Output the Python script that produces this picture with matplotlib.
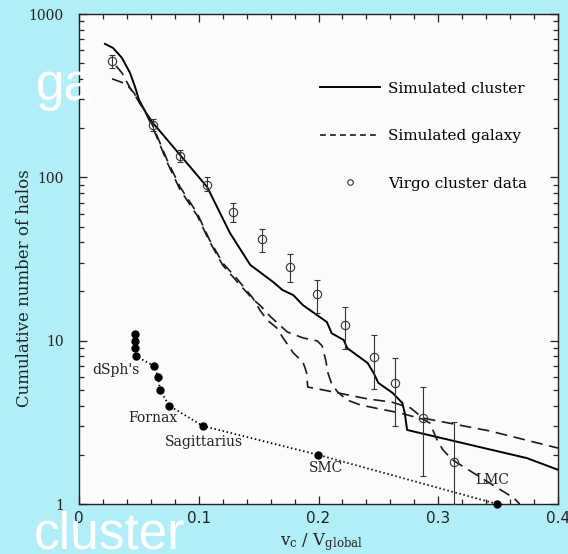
import matplotlib
matplotlib.use("Agg")
import matplotlib.pyplot as plt
from matplotlib.lines import Line2D
from matplotlib.ticker import FixedLocator, MultipleLocator, LogLocator, NullFormatter, FixedFormatter

plt.rcParams['font.family'] = ['DejaVu Serif']
plt.rcParams['mathtext.fontset'] = 'dejavuserif'

# ---- Simulated cluster (solid line) ----
cluster_v = [0.0217, 0.0284, 0.0359, 0.0426, 0.0468, 0.0501, 0.0560, 0.0618, 0.0702, 0.0844,
             0.107, 0.126, 0.143, 0.162, 0.170, 0.179, 0.187, 0.207, 0.211, 0.221, 0.224,
             0.241, 0.246, 0.250, 0.262, 0.270, 0.272, 0.274, 0.327, 0.374, 0.400]
cluster_n = [656, 620, 538, 436, 358, 298, 248, 215, 182, 137,
             87.3, 45.7, 29.1, 22.9, 20.4, 19.0, 16.5, 13.0, 11.1, 10.1, 9.0,
             7.3, 6.35, 5.51, 4.78, 4.15, 3.61, 2.84, 2.30, 1.91, 1.62]

# ---- Simulated galaxy 1 (dashed) ----
galaxy1_v = [0.0276, 0.0393, 0.0459, 0.0501, 0.0560, 0.0618, 0.0677, 0.0735, 0.0844, 0.0986,
             0.109, 0.120, 0.132, 0.145, 0.151, 0.157, 0.165, 0.170, 0.179, 0.187, 0.190,
             0.191, 0.204, 0.241, 0.261, 0.277, 0.287, 0.343, 0.400]
galaxy1_n = [401, 373, 329, 290, 248, 206, 162, 128, 87.3, 60.5,
             41.4, 29.9, 23.9, 18.3, 15.4, 13.4, 12.0, 10.5, 8.4, 7.4, 6.4,
             5.2, 4.99, 4.40, 4.21, 3.87, 3.36, 2.80, 2.20]

# ---- Simulated galaxy 2 (dashed) ----
galaxy2_v = [0.0309, 0.0359, 0.0426, 0.0501, 0.0560, 0.0618, 0.0677, 0.0735, 0.0844, 0.0986,
             0.109, 0.120, 0.132, 0.145, 0.151, 0.160, 0.174, 0.187, 0.199, 0.203, 0.206,
             0.208, 0.211, 0.216, 0.224, 0.235, 0.251, 0.268, 0.287, 0.293, 0.299, 0.304,
             0.312, 0.335, 0.363, 0.368]
galaxy2_n = [481, 436, 353, 290, 245, 200, 158, 124, 84, 58.5,
             40.5, 29.0, 23.0, 18.0, 16.5, 14.0, 11.3, 10.4, 9.96, 9.3, 7.6,
             6.3, 5.43, 4.85, 4.33, 4.04, 3.82, 3.61, 3.31, 3.13, 2.47, 2.14,
             1.86, 1.46, 1.09, 1.0]

# ---- Virgo cluster data ----
virgo_v = [0.0276, 0.0618, 0.0844, 0.107, 0.129, 0.153, 0.176, 0.199, 0.222, 0.246, 0.264, 0.287, 0.313]
virgo_n = [516, 209, 135, 89.9, 61.4, 42.0, 28.3, 19.3, 12.5, 7.94, 5.51, 3.36, 1.81]
virgo_hi = [561, 229, 147, 100.6, 69.7, 48.3, 34.0, 23.5, 16.1, 10.8, 7.8, 5.2, 3.18]
virgo_lo = [468, 193, 124, 82.6, 53.3, 34.9, 22.9, 14.8, 8.9, 5.06, 3.0, 1.48, 1.0]

# ---- Milky Way satellites ----
mw_v = [0.0468, 0.0468, 0.0470, 0.0480, 0.0627, 0.0660, 0.0677, 0.0752, 0.1036, 0.1997, 0.349]
mw_n = [11, 10, 9, 8, 7, 6, 5, 4, 3, 2, 1]

sat_labels = ["dSph's", "Fornax", "Sagittarius", "SMC", "LMC"]
sat_label_v = [0.0109, 0.041, 0.0718, 0.192, 0.331]
sat_label_n = [6.62, 3.36, 2.40, 1.66, 1.40]

legend_labels = ["Simulated cluster", "Simulated galaxy", "Virgo cluster data"]

xticks = [0, 0.1, 0.2, 0.3, 0.4]
xticklabels = ["0", "0.1", "0.2", "0.3", "0.4"]
yticks = [1, 10, 100, 1000]
yticklabels = ["1", "10", "100", "1000"]

# ---------------------------------------------------------------
fig = plt.figure(figsize=(5.68, 5.54), dpi=100, facecolor='#b2eef8')
ax = fig.add_axes([79 / 568, 50 / 554, 479 / 568, 490 / 554])
ax.set_facecolor('#fbfbfa')
ax.set_yscale('log')
ax.set_xlim(0, 0.4)
ax.set_ylim(1, 1000)

ax.plot(cluster_v, cluster_n, color='black', lw=1.4, zorder=4)
ax.plot(galaxy1_v, galaxy1_n, color='#1a1a1a', lw=1.2, dashes=(7, 4), zorder=4)
ax.plot(galaxy2_v, galaxy2_n, color='#1a1a1a', lw=1.2, dashes=(7, 4), zorder=4)

yerr = [[n - lo for n, lo in zip(virgo_n, virgo_lo)],
        [hi - n for n, hi in zip(virgo_n, virgo_hi)]]
ax.errorbar(virgo_v, virgo_n, yerr=yerr, fmt='o', mfc='none', mec='#333333', mew=0.8,
            ms=6, ecolor='#333333', elinewidth=0.8, capsize=2.5, capthick=0.8, zorder=5)

ax.plot(mw_v, mw_n, color='black', lw=1.3, dashes=(0.8, 1.5), zorder=4)
ax.plot(mw_v, mw_n, 'o', color='black', ms=5, zorder=6, clip_on=False)

for lab, v, n in zip(sat_labels, sat_label_v, sat_label_n):
    ax.text(v, n, lab, fontsize=10, ha='left', va='center', color='#222222')

proxy_virgo = Line2D([], [], ls='none', marker='o', mfc='none', mec='#333333', ms=4, mew=0.8)
proxy_gal = Line2D([], [], color='#1a1a1a', lw=1.2, dashes=(3.5, 2.5))
proxy_clu = Line2D([], [], color='black', lw=1.4)
ax.legend([proxy_clu, proxy_gal, proxy_virgo], legend_labels, loc='upper left',
          bbox_to_anchor=(0.503, 0.862), frameon=False, fontsize=11,
          handlelength=3.9, handletextpad=0.55, labelspacing=2.2,
          borderpad=0, borderaxespad=0)

# ticks
ax.xaxis.set_major_locator(FixedLocator(xticks))
ax.xaxis.set_major_formatter(FixedFormatter(xticklabels))
ax.xaxis.set_minor_locator(MultipleLocator(0.02))
ax.yaxis.set_major_locator(FixedLocator(yticks))
ax.yaxis.set_major_formatter(FixedFormatter(yticklabels))
ax.yaxis.set_minor_locator(LogLocator(base=10, subs=[2, 3, 4, 5, 6, 7, 8, 9]))
ax.yaxis.set_minor_formatter(NullFormatter())
ax.tick_params(which='both', direction='in', top=True, right=True, width=0.9, color='#222222')
ax.tick_params(which='major', length=6)
ax.tick_params(which='minor', length=3.5)
ax.tick_params(axis='y', which='major', pad=11, labelsize=10, labelcolor='#222222')
ax.tick_params(axis='x', which='major', pad=5, labelsize=11, labelcolor='#222222')
for t in ax.get_xticklabels():
    t.set_family('DejaVu Sans')
for s in ax.spines.values():
    s.set_linewidth(1.0)
    s.set_color('#222222')

ax.set_xlabel(r'$\mathregular{v_c\ /\ V_{global}}$', fontsize=12, color='#222222')
ax.xaxis.set_label_coords(0.507, -0.055)
ax.set_ylabel('Cumulative number of halos', fontsize=12, color='#222222')
ax.yaxis.set_label_coords(-0.096, 0.441)

# white overlay text
fig.text(0.063, 0.8195, 'ga', color='white', fontsize=37, family='Liberation Sans',
         va='baseline', ha='left', zorder=10)
fig.text(0.060, 0.0108, 'cluster', color='white', fontsize=37, family='Liberation Sans',
         va='baseline', ha='left', zorder=10)

fig.savefig('out.png', dpi=100, facecolor=fig.get_facecolor())
